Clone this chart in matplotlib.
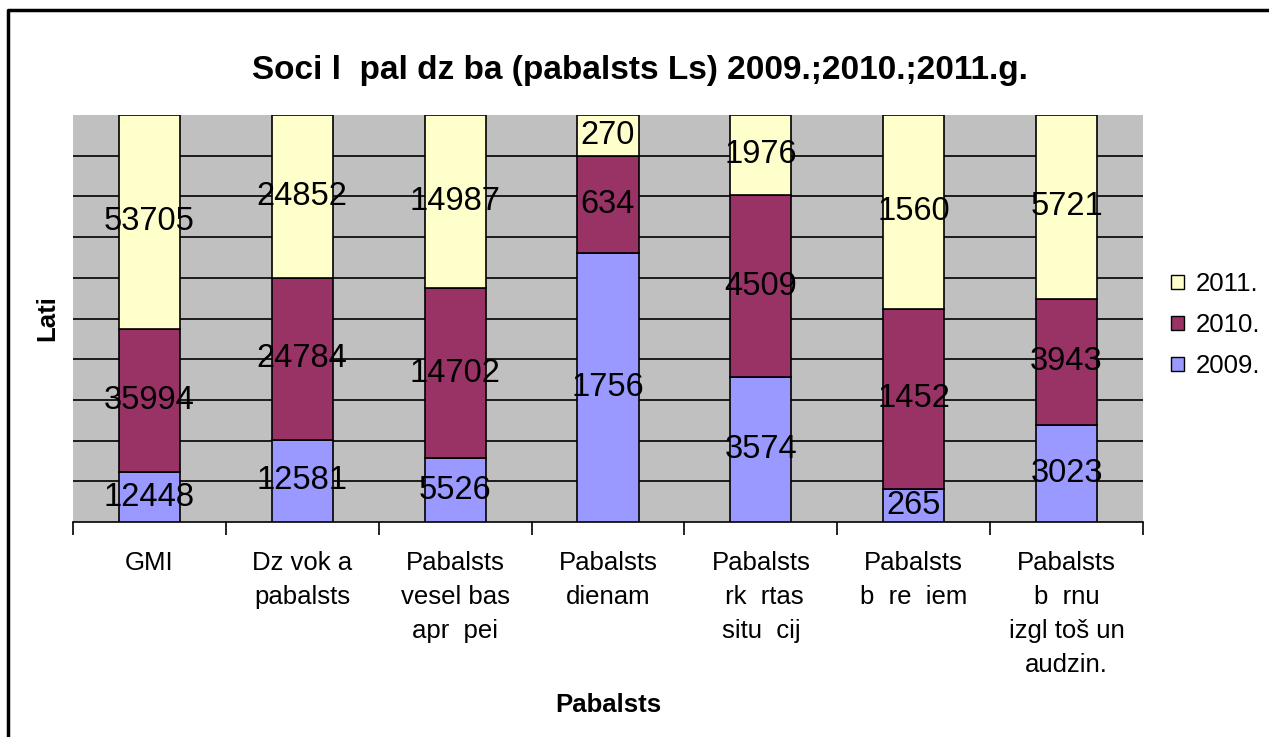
import matplotlib
matplotlib.use("Agg")
import matplotlib.pyplot as plt
from matplotlib.patches import Patch
from matplotlib.lines import Line2D
import numpy as np

categories = ["GMI", "Dz vok a\npabalsts", "Pabalsts\nvesel bas\napr  pei",
              "Pabalsts\ndienam", "Pabalsts\n rk  rtas\nsitu  cij",
              "Pabalsts\nb  re  iem", "Pabalsts\nb  rnu\nizgl toš un\naudzin."]
series_names = ["2009.", "2010.", "2011."]
v2009 = [12448, 12581, 5526, 1756, 3574, 265, 3023]
v2010 = [35994, 24784, 14702, 634, 4509, 1452, 3943]
v2011 = [53705, 24852, 14987, 270, 1976, 1560, 5721]
colors = ["#9999FF", "#993366", "#FFFFCC"]

title = "Soci l  pal dz ba (pabalsts Ls) 2009.;2010.;2011.g."
xlabel = "Pabalsts"
ylabel = "Lati"

plt.rcParams['font.family'] = ['Liberation Sans', 'DejaVu Sans']

fig = plt.figure(figsize=(12.69, 7.37), dpi=100)
W, H = 1269, 737
ax = fig.add_axes([73 / W, 1 - 522 / H, (1143 - 73) / W, (522 - 115) / H])
ax.set_facecolor("#C0C0C0")

vals = np.array([v2009, v2010, v2011], dtype=float)
totals = vals.sum(axis=0)
pct = vals / totals * 100
x = np.arange(len(categories))
bottom = np.zeros(len(categories))
handles = []
for i, name in enumerate(series_names):
    bars = ax.bar(x, pct[i], 0.4, bottom=bottom, color=colors[i],
                  edgecolor="black", linewidth=1.2, zorder=3, label=name)
    ax.bar_label(bars, labels=[str(int(v)) for v in vals[i]], label_type="center",
                 fontsize=23.5, color="black", zorder=4)
    bottom += pct[i]
    handles.append(Patch(facecolor=colors[i], edgecolor="black", linewidth=1.0, label=name))

ax.set_xlim(-0.5, len(categories) - 0.5)
ax.set_ylim(0, 100)
for g in range(10, 100, 10):
    ax.axhline(g, color="black", linewidth=1.2, zorder=1)

for s in ["top", "right", "left"]:
    ax.spines[s].set_visible(False)
ax.spines["bottom"].set_linewidth(1.2)
ax.set_yticks([])
ax.set_xticks(np.arange(-0.5, len(categories), 1.0))
ax.set_xticklabels([])
ax.tick_params(axis="x", which="major", direction="out", length=9, width=1.2, color="black")
ax.set_xticks(x, minor=True)
ax.set_xticklabels(categories, minor=True, fontsize=18.5, linespacing=1.52, va="top")
ax.tick_params(axis="x", which="minor", length=0, pad=21)

fig.text(0.504, 1 - 71 / H, title, ha="center", va="center", fontsize=24, fontweight="bold")
fig.text(608 / W, 1 - 705 / H, xlabel, ha="center", va="center", fontsize=18.5, fontweight="bold")
fig.text(47 / W, 1 - 318 / H, ylabel, ha="center", va="center", rotation=90, fontsize=18.5, fontweight="bold")

leg = fig.legend(handles=handles[::-1], loc="center left", bbox_to_anchor=(1171 / W, 1 - 325 / H),
                 frameon=False, fontsize=18.5, handlelength=0.5, handleheight=0.5,
                 handletextpad=0.45, labelspacing=0.66, borderpad=0, borderaxespad=0)

fig.add_artist(Line2D([8 / W, 8 / W, 1.0], [0.0, 1 - 10 / H, 1 - 10 / H],
                      transform=fig.transFigure, color="black", linewidth=2.5))

fig.savefig("out.png", dpi=100)
